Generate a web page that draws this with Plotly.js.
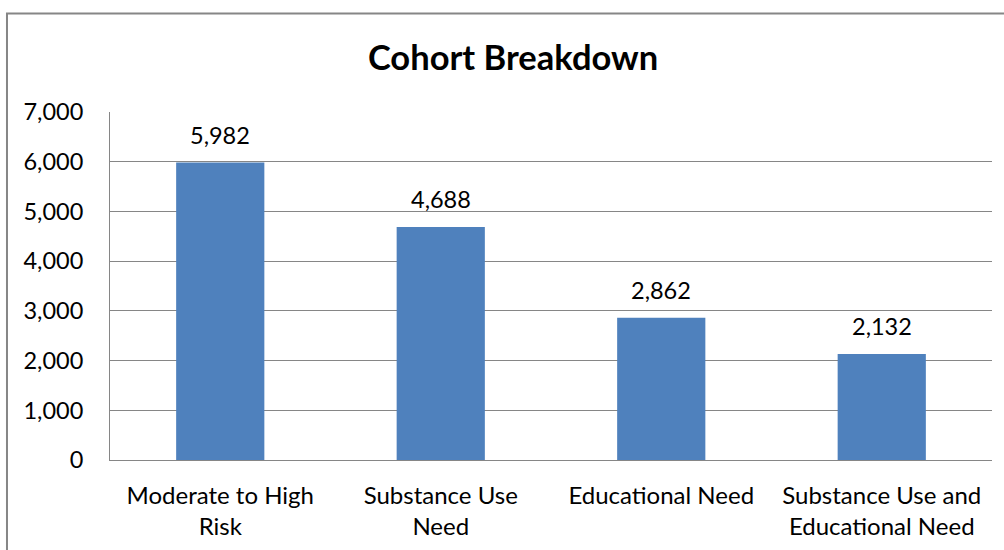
<!DOCTYPE html>
<html><head><meta charset="utf-8">
<script src="https://cdn.plot.ly/plotly-3.0.1.min.js"></script>
<style>html,body{margin:0;padding:0;background:#fff;}#chart{width:1004px;height:550px;}</style>
</head><body><div id="chart"></div>
<script>
const categories = ["Moderate to High<br>Risk", "Substance Use<br>Need", "Educational Need", "Substance Use and<br>Educational Need"];
const values = [5982, 4688, 2862, 2132];
const yTickVals = [0, 1000, 2000, 3000, 4000, 5000, 6000, 7000];
const yTickText = ["0", "1,000", "2,000", "3,000", "4,000", "5,000", "6,000", "7,000"];
const valueLabels = values.map(v => v.toLocaleString('en-US'));

const FONT = "Lato, 'Open Sans', sans-serif";
const trace = {
  type: 'bar', x: categories, y: values,
  marker: {color: '#4F81BD'},
  hoverinfo: 'none'
};
const annotations = categories.map((c, i) => ({
  x: c, y: values[i], xref: 'x', yref: 'y', text: valueLabels[i], showarrow: false,
  xanchor: 'center', yanchor: 'bottom', yshift: 12,
  font: {family: FONT, size: 23.5, color: '#000'}
}));
const layout = {
  width: 1004, height: 550,
  margin: {l: 110, r: 12, t: 112, b: 90},
  paper_bgcolor: '#fff', plot_bgcolor: '#fff',
  bargap: 0.6,
  showlegend: false,
  font: {family: FONT, size: 23.5, color: '#000'},
  title: {text: '<b>Cohort Breakdown</b>', font: {family: FONT, size: 34.5, color: '#000'}, x: 0.511, xanchor: 'center', y: 0.895, yanchor: 'middle'},
  xaxis: {type: 'category', showline: true, linecolor: '#868686', linewidth: 1, ticks: '', ticklabelstandoff: 14, tickfont: {family: FONT, size: 24, color: '#000'}, showgrid: false, zeroline: false, fixedrange: true},
  yaxis: {range: [0, 7000], tickvals: yTickVals, ticktext: yTickText, showline: true, linecolor: '#868686', linewidth: 1, showgrid: true, gridcolor: '#868686', gridwidth: 1, zeroline: false, ticks: '', ticklen: 0, ticklabelstandoff: 21, tickfont: {family: FONT, size: 23.5, color: '#000'}, fixedrange: true},
  annotations: annotations,
  shapes: [{type: 'rect', xref: 'paper', yref: 'paper', x0: -0.1168, x1: 1.2, y0: -0.5, y1: 1.283, line: {color: '#868686', width: 2}, fillcolor: 'rgba(0,0,0,0)', layer: 'below'}]
};
Plotly.newPlot('chart', [trace], layout, {displayModeBar: false, staticPlot: true});
</script></body></html>
